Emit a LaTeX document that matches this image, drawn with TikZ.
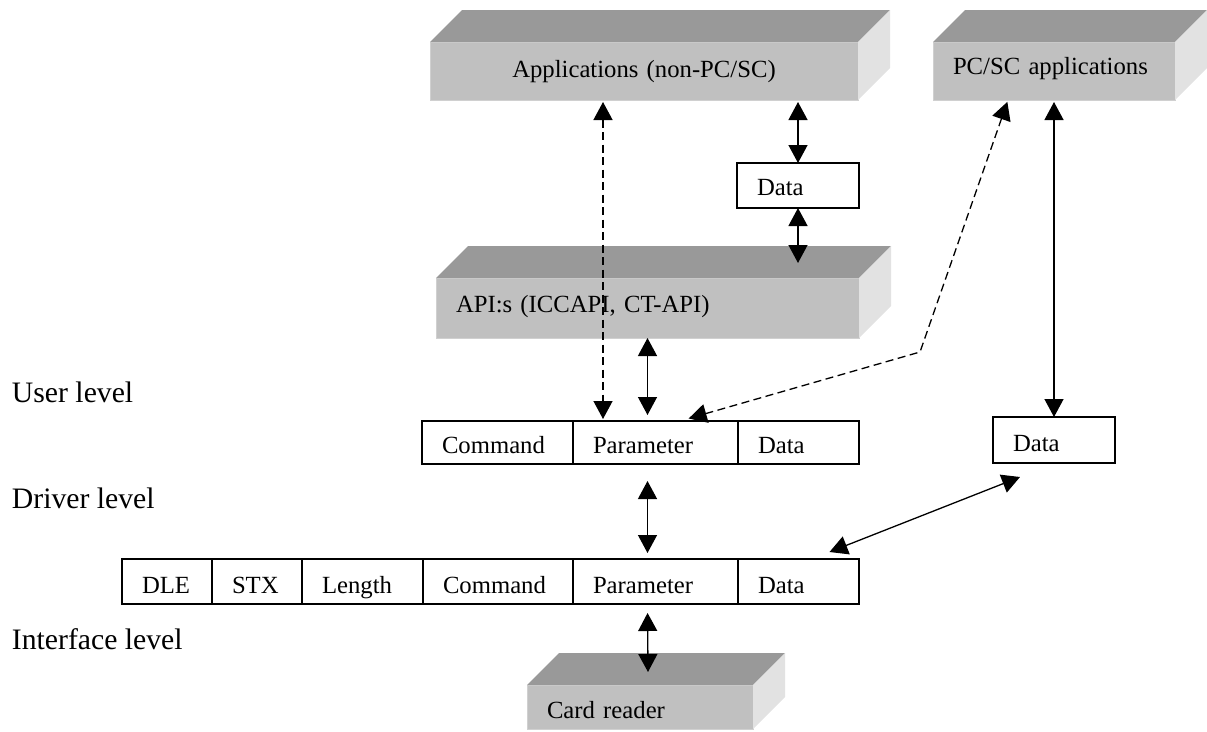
\documentclass[tikz,border=0pt]{standalone}
\usepackage{fontspec}
\setmainfont{Liberation Serif}
\usetikzlibrary{arrows.meta,calc}
\definecolor{topc}{HTML}{999999}
\definecolor{frontc}{HTML}{C0C0C0}
\definecolor{sidec}{HTML}{E2E2E2}
\definecolor{edgec}{HTML}{D0D0D0}
\newcommand\mkslab[1]{%
  \fill[topc] (#1.north west) -- ++(32,-32) -- ($(#1.north east)+(32,-32)$) -- (#1.north east) -- cycle;
  \fill[sidec] (#1.north east) -- ++(32,-32) -- ($(#1.south east)+(32,-32)$) -- (#1.south east) -- cycle;}
\begin{document}
\begin{tikzpicture}[x=1pt,y=-1pt,
  every node/.style={font=\fontsize{24.7}{28}\selectfont, outer sep=0pt, text depth=0pt},
  face/.style={fill=frontc, draw=edgec, line width=0.8pt, inner xsep=20pt, inner ysep=0pt, align=left},
  cell/.style={draw, line width=1.2pt, inner xsep=20pt, inner ysep=0pt, align=left},
  lvl/.style={anchor=base west, inner sep=0pt, font=\fontsize{29.7}{34}\selectfont},
  conn/.style={line width=1.3pt, {Triangle[length=18pt,width=19pt]}-{Triangle[length=18pt,width=19pt]}},
  dconn/.style={conn, dash pattern=on 8pt off 4.5pt}
]
\useasboundingbox (0,0) rectangle (1207,731);

% 3D boxes
\node[face, text width=388pt, minimum height=58pt, align=center, text height=12pt] (app) at (644,71) {Applications (non-PC/SC)};
\mkslab{app}
\node[face, text width=202pt, minimum height=58pt, text height=6pt] (pcsc) at (1054,71) {PC/SC applications};
\mkslab{pcsc}
\node[face, text width=383pt, minimum height=60pt, text height=8pt] (api) at (647.5,308) {API:s (ICCAPI, CT-API)};
\mkslab{api}
\node[face, text width=186pt, minimum height=44pt, text height=22pt] (card) at (640,707) {Card reader};
\mkslab{card}

% Data boxes
\node[cell, text width=82pt, minimum height=45pt, text height=19pt] (data1) at (798,185.5) {Data};
\node[cell, text width=82pt, minimum height=46pt, text height=22pt] (data2) at (1054,440) {Data};

% middle table
\begin{scope}[every node/.append style={text height=21pt}]
\node[cell, text width=111pt, minimum height=43pt] (cmd) at (497.5,442.5) {Command};
\node[cell, text width=125pt, minimum height=43pt] (param) at (655.5,442.5) {Parameter};
\node[cell, text width=81pt, minimum height=43pt] (mdata) at (798.5,442.5) {Data};
\end{scope}

% bottom table
\begin{scope}[every node/.append style={text height=23pt}]
\node[cell, text width=50pt, minimum height=45pt] (dle) at (167,581.5) {DLE};
\node[cell, text width=50pt, minimum height=45pt] (stx) at (257,581.5) {STX};
\node[cell, text width=81pt, minimum height=45pt] (len) at (362.5,581.5) {Length};
\node[cell, text width=110pt, minimum height=45pt] (bcmd) at (498,581.5) {Command};
\node[cell, text width=125pt, minimum height=45pt] (bparam) at (655.5,581.5) {Parameter};
\node[cell, text width=81pt, minimum height=45pt] (bdata) at (798.5,581.5) {Data};
\end{scope}

% level labels
\node[lvl] (ul) at (12,402) {User level};
\node[lvl] (dl) at (12,508) {Driver level};
\node[lvl] (il) at (12,649) {Interface level};

% helper coordinates
\coordinate (apitop) at (798,263);
\coordinate (cardtop) at (648,672);
\coordinate (bend) at (920,352);

% connectors
\draw[conn, shorten <=2pt] (app.south -| data1.north) -- (data1.north);
\draw[conn] (data1.south) -- (apitop);
\draw[dconn, shorten <=2pt, shorten >=2pt] (app.south -| 603,0) -- (param.north -| 603,0);
\draw[conn, shorten >=6pt] (api.south) -- (api.south |- param.north);
\draw[conn, shorten <=17pt, shorten >=6pt] (api.south |- param.south) -- (api.south |- bparam.north);
\draw[conn, shorten <=9pt] (api.south |- bparam.south) -- (cardtop);
\draw[conn, shorten <=2pt] (pcsc.south) -- (data2.north);
\draw[dconn, shorten <=2pt, shorten >=9pt] (pcsc.south -| 1008,0) -- (bend) -- (param.north -| 680,0);
\draw[conn] ($(data2.south)+(-34,14)$) -- ($(bdata.north)+(31,-7)$);
\end{tikzpicture}
\end{document}
